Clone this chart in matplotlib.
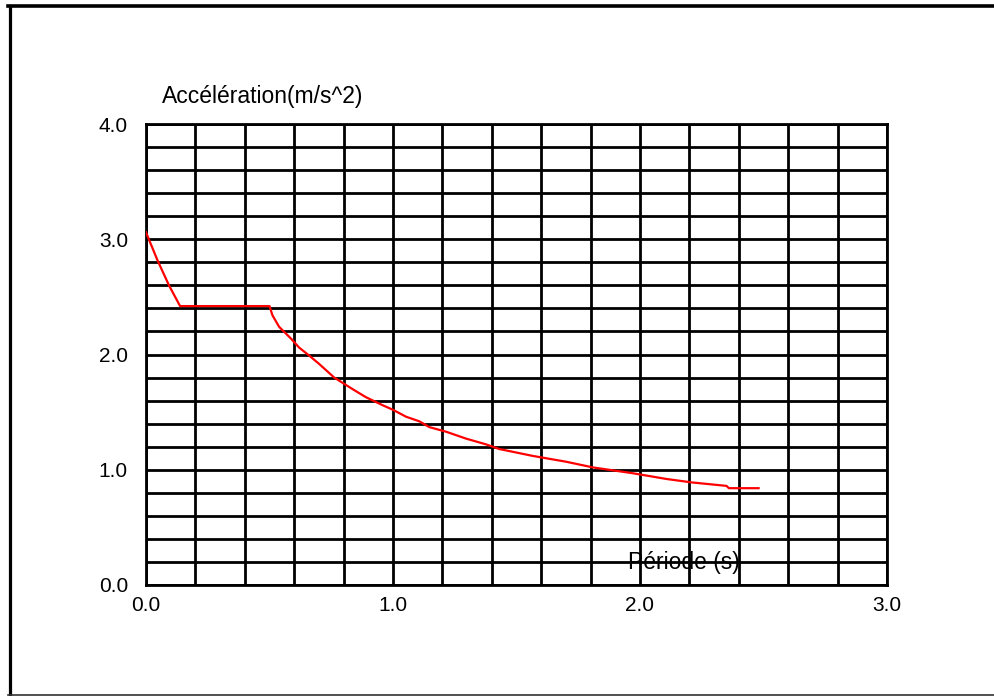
import matplotlib
matplotlib.use('Agg')
from matplotlib import pyplot as plt
from matplotlib.ticker import MultipleLocator, FixedLocator

# spectre de réponse
periode = [0.0, 0.046, 0.093, 0.138, 0.30, 0.50, 0.512, 0.539, 0.586, 0.62, 0.661,
           0.70, 0.762, 0.836, 0.89, 0.958, 1.0, 1.053, 1.107, 1.147, 1.215,
           1.296, 1.377, 1.43, 1.566, 1.70, 1.81, 1.97, 2.107, 2.21, 2.35,
           2.36, 2.48]
acceleration = [3.06, 2.82, 2.60, 2.42, 2.42, 2.42, 2.34, 2.24, 2.14, 2.06, 1.99,
                1.92, 1.80, 1.70, 1.63, 1.56, 1.52, 1.46, 1.42, 1.37, 1.33,
                1.27, 1.22, 1.18, 1.12, 1.07, 1.02, 0.97, 0.92, 0.89, 0.86,
                0.84, 0.84]

x_ticks = [0.0, 1.0, 2.0, 3.0]
y_ticks = [0.0, 1.0, 2.0, 3.0, 4.0]

W, H = 995, 696
fig = plt.figure(figsize=(W / 100, H / 100), dpi=100)
plt.rcParams['font.family'] = ['Liberation Sans', 'DejaVu Sans']

ax = fig.add_axes([146 / W, (H - 585) / H, (887 - 146) / W, (585 - 124) / H])
ax.plot(periode, acceleration, color='red', lw=1.6, zorder=3)

ax.set_xlim(0, 3.0)
ax.set_ylim(0, 4.0)
ax.xaxis.set_major_locator(FixedLocator(x_ticks))
ax.yaxis.set_major_locator(FixedLocator(y_ticks))
ax.xaxis.set_minor_locator(MultipleLocator(0.2))
ax.yaxis.set_minor_locator(MultipleLocator(0.2))
ax.set_xticklabels(['%.1f' % v for v in x_ticks])
ax.set_yticklabels(['%.1f' % v for v in y_ticks])
ax.grid(which='both', color='black', lw=2.0)
ax.tick_params(which='both', length=0, labelsize=15)
ax.tick_params(axis='x', pad=8)
ax.tick_params(axis='y', pad=13)
for s in ax.spines.values():
    s.set_linewidth(2.0)
ax.set_axisbelow(True)

# titres des axes
fig.text(162 / W, 1 - 96 / H, 'Accélération(m/s^2)', fontsize=16.5, ha='left', va='center')
ax.text(628 / W, 1 - 562 / H, 'Période (s)', transform=fig.transFigure,
        fontsize=16.5, ha='left', va='center', zorder=5)

# cadre extérieur
fig.add_artist(plt.Line2D([8 / W, 1.0], [1 - 5.5 / H, 1 - 5.5 / H], color='black', lw=2.6))
fig.add_artist(plt.Line2D([9.5 / W, 9.5 / W], [0, 1 - 5.5 / H], color='black', lw=2.3))
fig.add_artist(plt.Line2D([8 / W, 1.0], [1.2 / H, 1.2 / H], color='#333333', lw=1.2))

fig.savefig('out.png', dpi=100)
